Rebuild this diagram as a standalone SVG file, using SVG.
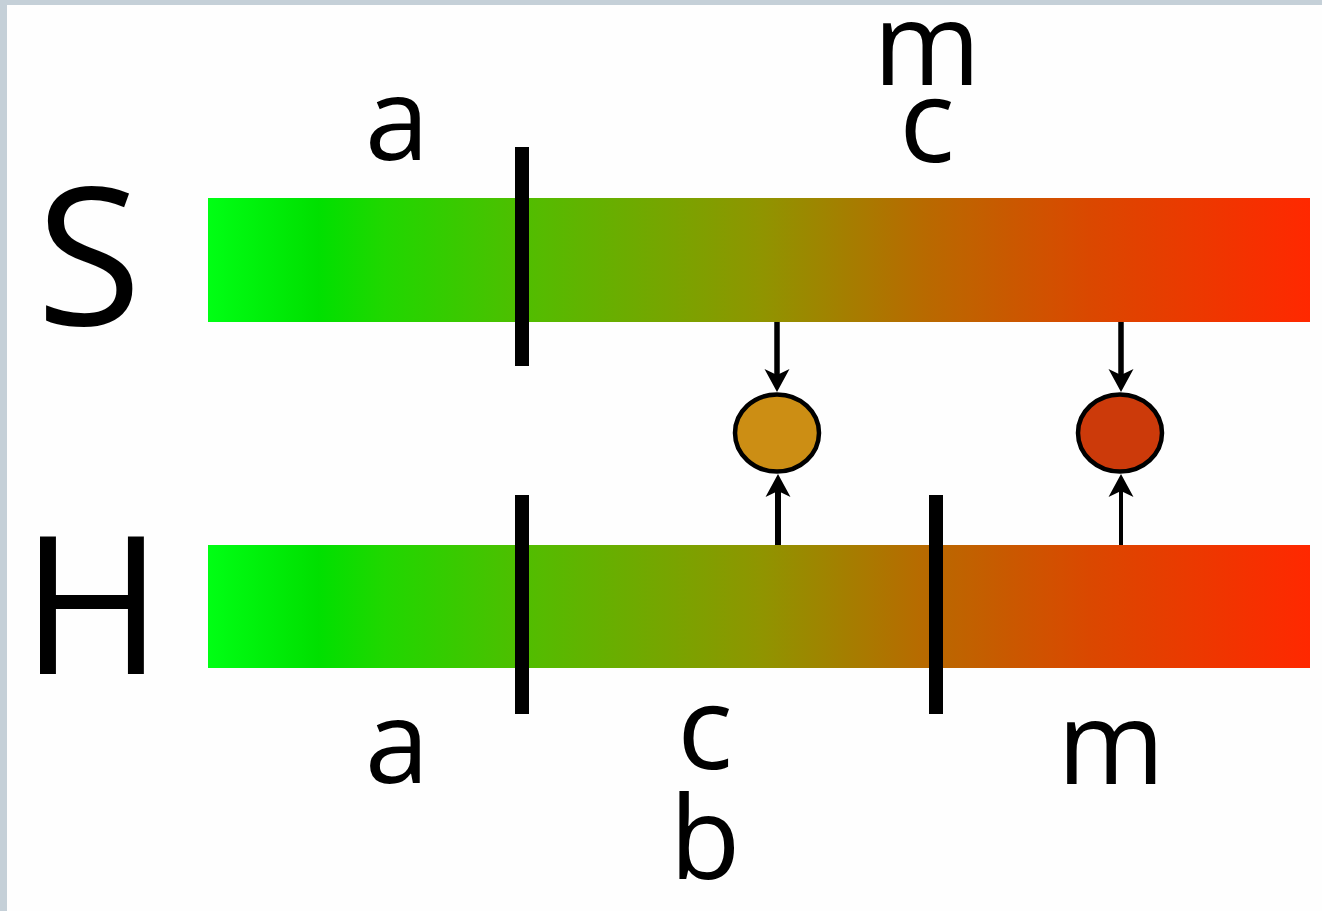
<svg xmlns="http://www.w3.org/2000/svg" width="1322" height="911" viewBox="0 0 1322 911">
  <style>
    .bar { fill: url(#grad); }
    .tick { fill: #000; }
    .lbl { font-family: "Open Sans", "Liberation Sans", sans-serif; fill: #000; text-anchor: middle; }
    .big { font-size: 192px; }
    .small { font-size: 116px; }
    .conn { stroke: #000; fill: none; marker-end: url(#arrow); }
    .node { stroke: #000; stroke-width: 4.5; }
  </style>
  <defs>
    <linearGradient id="grad" x1="208" y1="0" x2="1310" y2="0" gradientUnits="userSpaceOnUse">
      <stop offset="0" stop-color="#00ff14"/>
      <stop offset="0.1" stop-color="#00e000"/>
      <stop offset="0.16" stop-color="#20d700"/>
      <stop offset="0.3" stop-color="#55bb00"/>
      <stop offset="0.5" stop-color="#8f9500"/>
      <stop offset="0.65" stop-color="#b86a00"/>
      <stop offset="0.8" stop-color="#da4800"/>
      <stop offset="1" stop-color="#ff2800"/>
    </linearGradient>
    <marker id="arrow" viewBox="-24 -14 26 28" markerWidth="26" markerHeight="28" refX="-10" refY="0" orient="auto" markerUnits="userSpaceOnUse">
      <path d="M0,0 L-23,-12.5 L-17,0 L-23,12.5 Z" fill="#000"/>
    </marker>
  </defs>
  <rect x="0" y="0" width="1322" height="911" fill="#fefefe"/>
  <rect x="0" y="0" width="1322" height="5" fill="#c5d0d8"/>
  <rect x="0" y="0" width="7" height="911" fill="#c5d0d8"/>

  <g id="bar-S">
    <rect class="bar" x="208" y="198" width="1102" height="124"/>
    <rect class="tick" x="515" y="147" width="14" height="219"/>
    <text class="lbl big" x="89" y="325">S</text>
    <text class="lbl small" x="397" y="160">a</text>
    <text class="lbl small" x="927" y="85">m</text>
    <text class="lbl small" x="927" y="162">c</text>
  </g>

  <g id="bar-H">
    <rect class="bar" x="208" y="545" width="1102" height="123"/>
    <rect class="tick" x="515" y="495" width="14" height="219"/>
    <rect class="tick" x="929" y="495" width="14" height="219"/>
    <text class="lbl big" x="92" y="674">H</text>
    <text class="lbl small" x="397" y="783">a</text>
    <text class="lbl small" x="705" y="769">c</text>
    <text class="lbl small" x="705" y="879">b</text>
    <text class="lbl small" x="1111" y="784">m</text>
  </g>

  <g id="node-orange">
    <ellipse class="node" cx="777" cy="433" rx="42" ry="38.5" fill="#cc8e14"/>
  </g>
  <g id="node-red">
    <ellipse class="node" cx="1120" cy="433" rx="42" ry="38.5" fill="#cc3a0a"/>
  </g>

  <g id="connectors">
    <line class="conn" x1="777" y1="322" x2="777" y2="382" stroke-width="5.5"/>
    <line class="conn" x1="1121" y1="322" x2="1121" y2="382" stroke-width="5.5"/>
    <line class="conn" x1="778" y1="545" x2="778" y2="484" stroke-width="6"/>
    <line class="conn" x1="1121" y1="545" x2="1121" y2="484" stroke-width="4"/>
  </g>
</svg>
